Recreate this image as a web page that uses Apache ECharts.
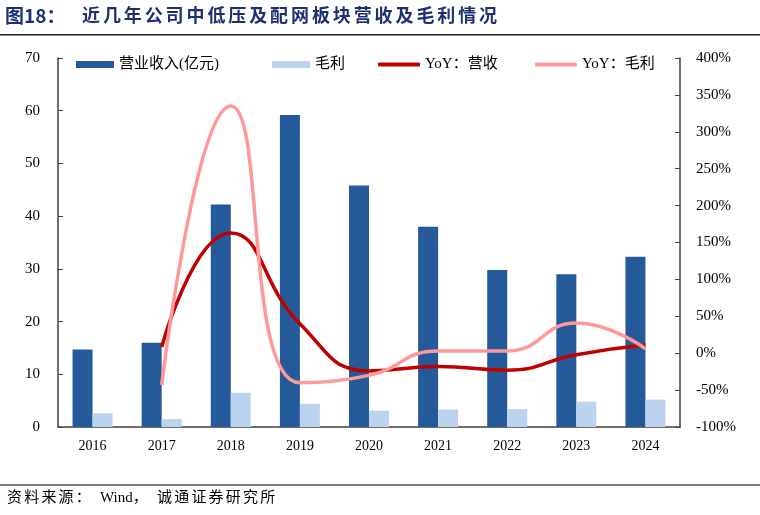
<!DOCTYPE html>
<html><head><meta charset="utf-8">
<script src="https://cdn.jsdelivr.net/npm/echarts@6/dist/echarts.min.js"></script>
<style>html,body{margin:0;padding:0;background:#fff}#c{width:760px;height:515px}</style>
</head><body><div id="c"></div>
<script>
const categories = ['2016','2017','2018','2019','2020','2021','2022','2023','2024'];
const revenue = [14.7, 16.0, 42.2, 59.2, 45.8, 38.0, 29.8, 29.0, 32.3];
const grossProfit = [2.6, 1.5, 6.5, 4.4, 3.1, 3.3, 3.4, 4.8, 5.2];
const yoyRevenue = [null, 8.5, 163, 40, -24, -18, -23, -2, 11];
const yoyGross = [null, -43, 335, -40, -30, 3, 3, 41, 6];
const leftTicks = {min: 0, max: 70, interval: 10};
const rightTicks = {min: -100, max: 400, interval: 50};
const titleLead = '图18：';
const titleText = '近几年公司中低压及配网板块营收及毛利情况';
const sourceParts = ['资料来源：', 'Wind，', '诚通证券研究所'];

const serif = '"Liberation Serif","Times New Roman","Noto Sans CJK SC",serif';
const axisColor = '#404040';

function spaced(str, x0, pitch, top, font, fill) {
  return Array.from(str).map((ch, i) => ({type: 'text', left: x0 + i * pitch, top: top, style: {text: ch, font: font, fill: fill}}));
}

const graphics = [
  {type: 'text', left: 5, top: 6, style: {text: titleLead, font: 'bold 19px "Noto Sans CJK SC"', fill: '#1d3170'}},
  ...spaced(titleText, 82, 20.9, 6, 'bold 18px "Noto Sans CJK SC"', '#1d3170'),
  {type: 'rect', shape: {x: 0, y: 34, width: 760, height: 1.5}, style: {fill: '#222'}},
  {type: 'rect', shape: {x: 0, y: 484, width: 760, height: 2}, style: {fill: '#7f7f7f'}},
  ...spaced(sourceParts[0], 7, 17.2, 491, '15px ' + serif, '#000'),
  {type: 'text', left: 100, top: 491, style: {text: sourceParts[1], font: '15px ' + serif, fill: '#000'}},
  ...spaced(sourceParts[2], 157, 17.2, 491, '15px ' + serif, '#000')
];

const chart = echarts.init(document.getElementById('c'));
const legendText = {fontFamily: serif, fontSize: 15, color: '#000', padding: [0, 0, 0, 0]};
const lg = (name, icon, left, w, h) => ({data: [{name: name, icon: icon}], left: left, top: 57, padding: 0, itemGap: 0, itemWidth: w, itemHeight: h, textStyle: legendText});
chart.setOption({
  animation: false,
  backgroundColor: '#fff',
  grid: {left: 58, right: 80, top: 58, bottom: 88, containLabel: false},
  graphic: graphics,
  legend: [
    lg('营业收入(亿元)', 'rect', 76, 38, 7),
    lg('毛利', 'rect', 272, 38, 7),
    lg('YoY：营收', 'roundRect', 378, 42, 4),
    lg('YoY：毛利', 'roundRect', 535, 42, 4)
  ],
  xAxis: {
    type: 'category', data: categories,
    axisLine: {lineStyle: {color: axisColor, width: 1.5}},
    axisTick: {inside: true, length: 5, lineStyle: {color: axisColor}},
    axisLabel: {fontFamily: serif, fontSize: 14, color: '#000', margin: 12}
  },
  yAxis: [
    {type: 'value', min: leftTicks.min, max: leftTicks.max, interval: leftTicks.interval,
     axisLine: {show: true, lineStyle: {color: axisColor, width: 1.5}},
     axisTick: {show: true, inside: true, length: 5, lineStyle: {color: axisColor}},
     splitLine: {show: false},
     axisLabel: {fontFamily: serif, fontSize: 15, color: '#000', margin: 18}},
    {type: 'value', min: rightTicks.min, max: rightTicks.max, interval: rightTicks.interval,
     axisLine: {show: true, lineStyle: {color: axisColor, width: 1.5}},
     axisTick: {show: true, inside: true, length: 5, lineStyle: {color: axisColor}},
     splitLine: {show: false},
     axisLabel: {fontFamily: serif, fontSize: 15, color: '#000', margin: 16, formatter: '{value}%'}}
  ],
  series: [
    {name: '营业收入(亿元)', type: 'bar', data: revenue, barWidth: 20, barGap: '0%', itemStyle: {color: '#255A9A'}},
    {name: '毛利', type: 'bar', data: grossProfit, barWidth: 20, barGap: '0%', itemStyle: {color: '#BBD3EE'}},
    {name: 'YoY：营收', type: 'line', yAxisIndex: 1, data: yoyRevenue, smooth: 0.5, symbol: 'none',
     lineStyle: {color: '#C00000', width: 3.5}, itemStyle: {color: '#C00000'}},
    {name: 'YoY：毛利', type: 'line', yAxisIndex: 1, data: yoyGross, smooth: 0.5, symbol: 'none',
     lineStyle: {color: '#FF9999', width: 3.5}, itemStyle: {color: '#FF9999'}}
  ]
});
</script></body></html>
